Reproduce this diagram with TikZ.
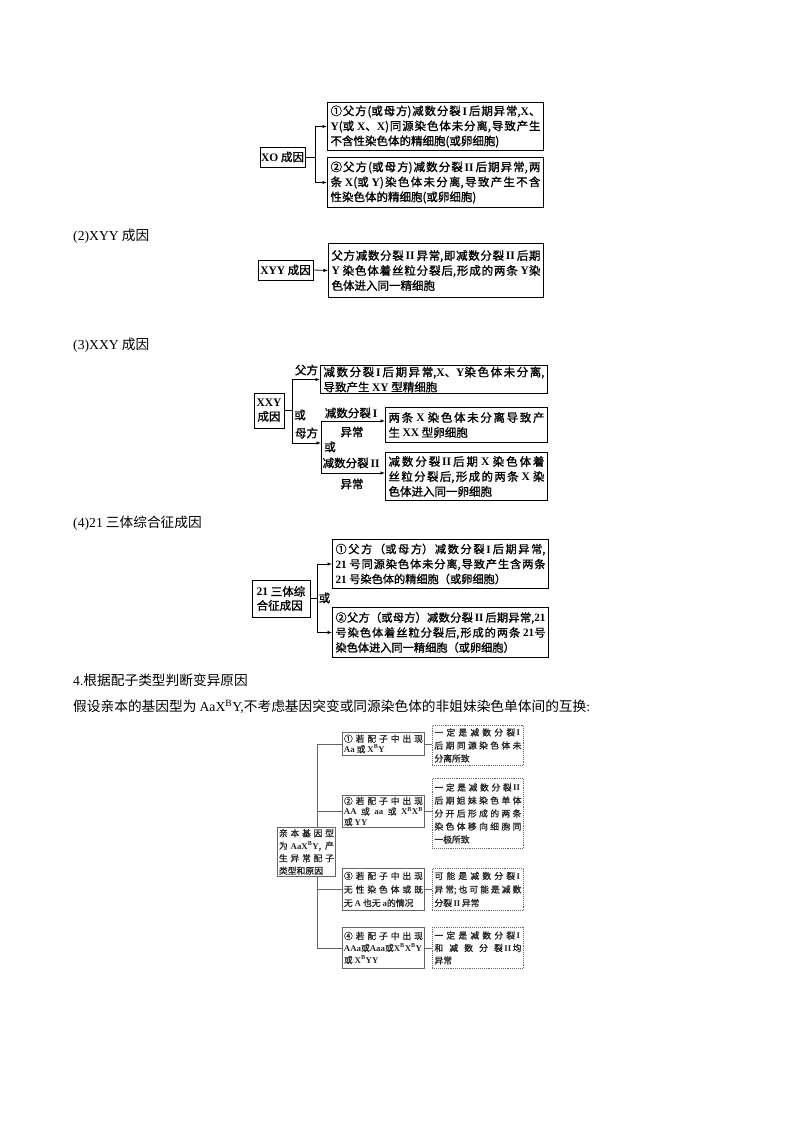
\documentclass[tikz,border=0pt]{standalone}
\usepackage{fontspec}
\setmainfont{Liberation Serif}
\newfontfamily\cjk{Noto Sans CJK SC}
\newfontfamily\cjkb{Noto Sans CJK SC}[FakeBold=1.2]
\usetikzlibrary{arrows.meta}
\newcommand\lb[1]{{\rmfamily\bfseries #1}}
\newcommand\lr[1]{{\rmfamily #1}}
\newcommand\xb{\lb{X\textsuperscript{B}}}
\newcommand\RI{\,\lb{I}\,}
\newcommand\RII{\,\lb{II}\,}
\newcommand\gf[1]{\cjkb\fontsize{8.8}{#1}\selectfont}
\tikzset{
  head/.style={font=\cjk\fontsize{13.7}{16}\selectfont,inner sep=0pt,anchor=west},
  lab/.style={font=\cjkb\fontsize{11.5}{14}\selectfont,inner sep=0pt},
  tbox/.style={draw,line width=1pt,anchor=north west,inner xsep=3pt,inner ysep=1pt,align=justify,font=\cjkb\fontsize{11.5}{15}\selectfont},
  sbox/.style={draw,line width=1pt,inner xsep=1pt,inner ysep=1pt,font=\cjkb\fontsize{11.5}{14}\selectfont},
  link/.style={line width=0.8pt},
  arr/.style={line width=0.8pt,-{Latex[length=4.5pt,width=3.5pt]}},
  gbox/.style={draw=black!60,line width=0.9pt,anchor=north west,inner xsep=1.5pt,inner ysep=1pt,align=justify,text=black!85},
  dbox/.style={gbox,densely dotted,inner xsep=2pt},
  glink/.style={draw=black!60,line width=0.9pt},
}
\begin{document}
\XeTeXlinebreaklocale "zh"
\XeTeXlinebreakskip=0pt plus 4pt minus 0.3pt
\tolerance=10000
\parindent=0pt
\begin{tikzpicture}[x=1pt,y=-1pt]
\useasboundingbox[fill=white] (0,0) rectangle (800,1132);

% ---------- XO ----------
\node[sbox,minimum width=45,minimum height=20] (xo) at (282.5,157) {\lb{XO} 成因};
\node[tbox,text width=210,minimum height=48] (b1) at (327,102)
 {①父方(或母方)减数分裂\RI 后期异常,\lb{X}、\linebreak \lb{Y}(或 \lb{X}、\lb{X})同源染色体未分离,导致产生\linebreak 不含性染色体的精细胞(或卵细胞)};
\node[tbox,text width=210,minimum height=50] (b2) at (327,157)
 {②父方(或母方)减数分裂\RII 后期异常,两\linebreak 条 \lb{X}(或 \lb{Y})染色体未分离,导致产生不含\linebreak 性染色体的精细胞(或卵细胞)};
\coordinate (xoj) at (315,157);
\draw[link] (xo.east) -- (xoj);
\draw[arr] (xoj) |- (b1.west);
\draw[arr] (xoj) |- (b2.west);

% ---------- XYY ----------
\node[head] (h2) at (73,236) {\lr{(2)XYY} 成因};
\node[sbox,minimum width=55,minimum height=20] (xyy) at (285.5,270) {\lb{XYY} 成因};
\node[tbox,text width=209,minimum height=54] (b3) at (328,243)
 {父方减数分裂\RII 异常,即减数分裂\RII 后期\linebreak \lb{Y} 染色体着丝粒分裂后,形成的两条 \lb{Y}染\linebreak 色体进入同一精细胞};
\draw[arr] (xyy.east) -- (b3.west);

% ---------- XXY ----------
\node[head] (h3) at (73,345) {\lr{(3)XXY} 成因};
\node[sbox,minimum width=30,minimum height=35,align=center] (xxy) at (269,410.5) {\lb{XXY}\\成因};
\node[tbox,text width=221,minimum height=28] (bA) at (320,365)
 {减数分裂\RI 后期异常,\lb{X}、\lb{Y}染色体未分离,\linebreak 导致产生 \lb{XY} 型精细胞};
\node[tbox,text width=156,minimum height=35] (bB) at (385,407)
 {两条 \lb{X} 染色体未分离导致产\linebreak 生 \lb{XX} 型卵细胞};
\node[tbox,text width=156,minimum height=48] (bC) at (385,452)
 {减数分裂\RII 后期 \lb{X} 染色体着\linebreak 丝粒分裂后,形成的两条 \lb{X} 染\linebreak 色体进入同一卵细胞};
\coordinate (j1) at (292,410.5);
\coordinate (j2) at (321,443);
\coordinate (k1) at (321,421);
\coordinate (k2) at (321,473);
\draw[link] (xxy.east) -- (j1);
\draw[arr] (j1) |- (bA.west);
\draw[arr] (j1) |- (j2);
\draw[link] (k1) -- (k2);
\draw[arr] (k1) -- (k1 -| bB.west);
\draw[arr] (k2) -- (k2 -| bC.west);
\node[lab] (lf) at (306.5,370) {父方};
\node[lab] (lo1) at (300,415) {或};
\node[lab] (lm) at (306.5,433) {母方};
\node[lab] (lj1) at (352,413) {减数分裂\RI};
\node[lab] (ly1) at (352,432) {异常};
\node[lab] (lo2) at (330,447) {或};
\node[lab] (lj2) at (352,463) {减数分裂\RII};
\node[lab] (ly2) at (352,484) {异常};

% ---------- 21 ----------
\node[head] (h4) at (73,523) {\lr{(4)21} 三体综合征成因};
\node[sbox,minimum width=58,minimum height=37,align=left] (t21) at (281,598.5) {\lb{21} 三体综\\合征成因};
\node[tbox,text width=210,minimum height=49,font=\cjkb\fontsize{11.2}{15}\selectfont] (b4) at (332,539)
 {①父方（或母方）减数分裂\RI 后期异常,\linebreak \lb{21} 号同源染色体未分离,导致产生含两条\linebreak \lb{21} 号染色体的精细胞（或卵细胞）};
\node[tbox,text width=210,minimum height=50,font=\cjkb\fontsize{11.2}{15}\selectfont] (b5) at (332,607)
 {②父方（或母方）减数分裂\RII 后期异常,\lb{21}\linebreak 号染色体着丝粒分裂后,形成的两条 \lb{21}号\linebreak 染色体进入同一精细胞（或卵细胞）};
\coordinate (j3) at (317,598.5);
\draw[link] (t21.east) -- (j3);
\draw[arr] (j3) |- (b4.west);
\draw[arr] (j3) |- (b5.west);
\node[lab] (lo3) at (324.5,598) {或};

% ---------- section 4 ----------
\node[head] (h5) at (73,680) {\lr{4.}根据配子类型判断变异原因};
\node[head] (h6) at (73,707) {假设亲本的基因型为 \lr{AaX\textsuperscript{B}Y,}不考虑基因突变或同源染色体的非姐妹染色单体间的互换\lr{:}};

\node[gbox,text width=79,minimum height=23,font={\gf{10.5}}] (c1) at (342,732)
 {①若配子中出现\linebreak \lb{Aa} 或 \xb\lb{Y}};
\node[gbox,text width=79,minimum height=32,font={\gf{10.5}}] (c2) at (342,795)
 {②若配子中出现\linebreak \lb{AA} 或 \lb{aa} 或 \xb\xb\linebreak 或 \lb{YY}};
\node[gbox,text width=79,minimum height=42,font={\gf{13.5}}] (c3) at (342,868)
 {③若配子中出现\linebreak 无性染色体或既\linebreak 无 \lb{A} 也无 \lb{a}的情况};
\node[gbox,text width=79,minimum height=41,font={\gf{12}}] (c4) at (342,927)
 {④若配子中出现\linebreak \lb{AAa}或\lb{Aaa}或\xb\xb\lb{Y}\linebreak 或 \xb\lb{YY}};
\node[dbox,text width=87,minimum height=40,font={\gf{13}}] (d1) at (432,725)
 {一定是减数分裂\RI\linebreak 后期同源染色体未\linebreak 分离所致};
\node[dbox,text width=87,minimum height=70,font={\gf{13}}] (d2) at (432,778)
 {一定是减数分裂\RII\linebreak 后期姐妹染色单体\linebreak 分开后形成的两条\linebreak 染色体移向细胞同\linebreak 一极所致};
\node[dbox,text width=87,minimum height=42,font={\gf{13.5}}] (d3) at (432,868)
 {可能是减数分裂\RI\linebreak 异常;也可能是减数\linebreak 分裂\RII 异常};
\node[dbox,text width=87,minimum height=41,font={\gf{12.5}}] (d4) at (432,927)
 {一定是减数分裂\RI\linebreak 和减数分裂\RII 均\linebreak 异常};
\coordinate (tx) at (317,0);
\draw[glink] (c1.west) -- (c1.west -| tx) -- (c4.west -| tx) -- (c4.west);
\draw[glink] (c2.west) -- (c2.west -| tx);
\draw[glink] (c3.west) -- (c3.west -| tx);
\draw[glink] (c1.east) -- (c1.east -| d1.west);
\draw[glink] (c2.east) -- (c2.east -| d2.west);
\draw[glink] (c3.east) -- (c3.east -| d3.west);
\draw[glink] (c4.east) -- (c4.east -| d4.west);
\node[gbox,fill=white,text width=55,minimum height=49,font={\gf{12.5}}] (pL) at (277,827)
 {\parfillskip=0pt 亲本基因型\linebreak 为 \lb{AaX\textsuperscript{B}Y},产\linebreak 生异常配子\linebreak 类型和原因};
\end{tikzpicture}
\end{document}
